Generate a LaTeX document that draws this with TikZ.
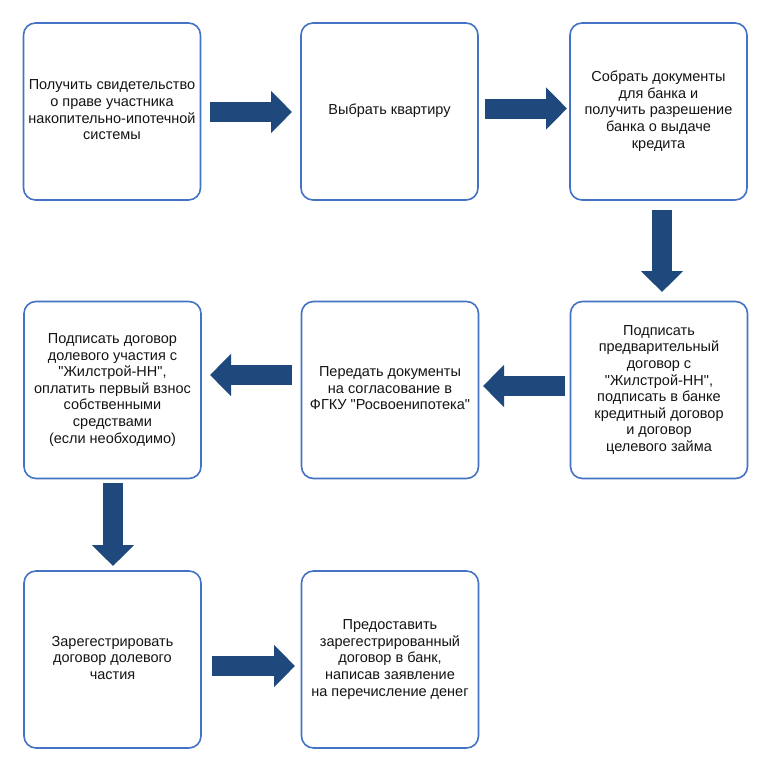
\documentclass[tikz,border=0pt]{standalone}
\usepackage{fontspec}
\setmainfont{Liberation Sans}
\newfontfamily\boxfont{Liberation Sans}
\usetikzlibrary{arrows.meta}
\definecolor{boxblue}{RGB}{68,114,196}
\definecolor{arrowblue}{RGB}{31,73,125}
\definecolor{txt}{RGB}{20,20,20}
\tikzset{
  stepbox/.style={draw=boxblue, line width=1.6pt, rounded corners=12pt, fill=white,
    minimum width=177pt, minimum height=177pt, outer sep=0pt, inner sep=0pt,
    align=center, text=txt, font=\boxfont\fontsize{14.5}{16.6}\selectfont},
  bigarrow/.style={draw=arrowblue, line width=20pt,
    -{Triangle[width=41pt,length=21pt]}, arrowblue}
}
\begin{document}
\begin{tikzpicture}[x=1pt,y=-1pt]
\useasboundingbox (0,0) rectangle (768,768);
\fill[white] (0,0) rectangle (768,768);
\node[stepbox] (b1) at (112,111.5) {\raisebox{3pt}{\begin{tabular}{@{}c@{}}Получить свидетельство\\о праве участника\\накопительно-ипотечной\\системы\end{tabular}}};
\node[stepbox] (b2) at (389.5,111.5) {\raisebox{4pt}{Выбрать квартиру}};
\node[stepbox] (b3) at (658.5,111.5) {\begin{tabular}{@{}c@{}}Собрать документы\\для банка и\\получить разрешение\\банка о выдаче\\кредита\end{tabular}};
\node[stepbox] (b4) at (112.5,390) {\begin{tabular}{@{}c@{}}Подписать договор\\долевого участия с\\"Жилстрой-НН",\\оплатить первый взнос\\собственными\\средствами\\(если необходимо)\end{tabular}};
\node[stepbox] (b5) at (390,390) {\raisebox{2pt}{\begin{tabular}{@{}c@{}}Передать документы\\на согласование в\\ФГКУ "Росвоенипотека"\end{tabular}}};
\node[stepbox] (b6) at (659,390) {\raisebox{2pt}{\begin{tabular}{@{}c@{}}Подписать\\предварительный\\договор с\\"Жилстрой-НН",\\подписать в банке\\кредитный договор\\и договор\\целевого займа\end{tabular}}};
\node[stepbox] (b7) at (112.5,659.5) {\begin{tabular}{@{}c@{}}Зарегестрировать\\договор долевого\\частия\end{tabular}};
\node[stepbox] (b8) at (390,659.5) {\begin{tabular}{@{}c@{}}Предоставить\\зарегестрированный\\договор в банк,\\написав заявление\\на перечисление денег\end{tabular}};
\draw[bigarrow] ([shift={(9.5,0.5)}]b1.east) -- ([shift={(-9,0.5)}]b2.west);
\draw[bigarrow] ([shift={(7,-3)}]b2.east) -- ([shift={(-3,-3)}]b3.west);
\draw[bigarrow] ([shift={(3.5,10)}]b3.south) -- ([shift={(3,-9.5)}]b6.north);
\draw[bigarrow] ([shift={(-5.5,-4)}]b6.west) -- ([shift={(4.5,-4)}]b5.east);
\draw[bigarrow] ([shift={(-9.5,-15)}]b5.west) -- ([shift={(9,-15)}]b4.east);
\draw[bigarrow] ([shift={(0.5,4.5)}]b4.south) -- ([shift={(0.5,-5)}]b7.north);
\draw[bigarrow] ([shift={(11,6.5)}]b7.east) -- ([shift={(-6.5,6.5)}]b8.west);
\end{tikzpicture}
\end{document}
